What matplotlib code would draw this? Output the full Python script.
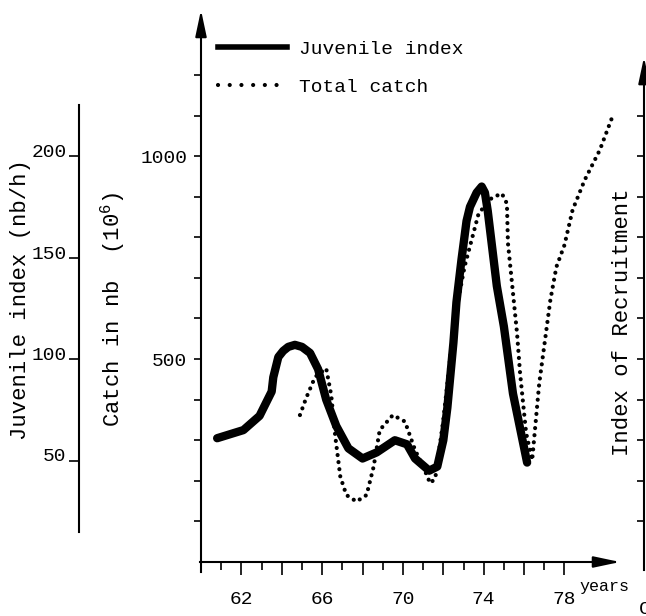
import numpy as np
import matplotlib
matplotlib.use("Agg")
import matplotlib.pyplot as plt
from matplotlib.lines import Line2D
from matplotlib.transforms import ScaledTranslation

plt.rcParams['font.family'] = ['Liberation Mono', 'DejaVu Sans']
plt.rcParams['mathtext.fontset'] = 'custom'
plt.rcParams['mathtext.rm'] = 'Liberation Mono'
plt.rcParams['mathtext.it'] = 'Liberation Mono'

# juvenile index (nb/h)
juv_year = [60.8, 62.1, 62.9, 63.5, 63.58, 63.83, 64.07, 64.32, 64.65, 65.0,
            65.4, 65.8, 66.2, 66.7, 67.3, 68.0, 68.7, 69.6, 70.2, 70.6,
            71.3, 71.7, 72.0, 72.2, 72.5, 72.65, 72.9, 73.15, 73.32, 73.65,
            73.9, 74.06, 74.2, 74.65, 75.0, 75.45, 76.15]
juv_index = [61, 65, 72, 84, 91, 101, 104, 106, 107, 106,
             103, 95, 80, 67, 56, 51, 54, 60, 58, 51,
             45, 47, 60, 76, 108, 128, 149, 168, 175, 182,
             185, 182, 173, 136, 116, 83, 49]

# total catch (10^6 individuals)
catch_year = [64.9, 65.2, 65.65, 66.2, 66.45, 66.65, 66.9, 67.2, 67.7, 68.2,
              68.55, 68.85, 69.5, 70.1, 70.6, 71.0, 71.35, 71.6, 72.0, 72.55,
              73.05, 73.75, 74.4, 74.9, 75.15, 75.2, 75.45, 75.65, 75.8, 76.1,
              76.4, 76.75, 77.3, 77.6, 78.0, 78.4, 79.0, 79.75, 80.35]
catch_nb = [362, 403, 456, 477, 411, 309, 210, 165, 149, 165,
            235, 325, 362, 346, 276, 235, 194, 206, 350, 596,
            727, 859, 897, 908, 883, 786, 663, 564, 466, 318,
            251, 440, 645, 727, 781, 867, 941, 1015, 1094]

year_ticks = [62, 64, 66, 68, 70, 72, 74, 76, 78]
year_labels = ['62', '', '66', '', '70', '', '74', '', '78']
year_minor = [61, 63, 65, 67, 69, 71, 73, 75, 77]
catch_ticks = [100, 200, 300, 400, 500, 600, 700, 800, 900, 1000, 1100, 1200]
catch_labels = ['', '', '', '', '500', '', '', '', '', '1000', '', '']
juv_ticks = [50, 100, 150, 200]
recr_ticks = [100, 200, 300, 400, 500, 600, 700, 800, 900, 1000, 1100]

fig = plt.figure(figsize=(6.46, 6.16), dpi=100)
pos = [201/646, 54/616, 419/646, 552/616]
arrow = dict(arrowstyle='-|>,head_length=0.8,head_width=0.17', color='k',
             lw=1.5, mutation_scale=20, shrinkA=0, shrinkB=0)

# main axes: catch
ax = fig.add_axes(pos)
ax.set_xlim(60, 80.75)
ax.set_ylim(0, 1360)
for s in ['top', 'right']:
    ax.spines[s].set_visible(False)
for s in ['left', 'bottom']:
    ax.spines[s].set_linewidth(1.5)
ax.spines['left'].set_bounds(-25, 1340)
ax.spines['bottom'].set_bounds(59.95, 80.5)
ax.set_xticks(year_ticks)
ax.set_xticklabels(year_labels, fontsize=14)
ax.set_xticks(year_minor, minor=True)
ax.tick_params(axis='x', which='major', length=9, width=1.2, pad=12)
ax.tick_params(axis='x', which='minor', length=6, width=1.2)
ax.set_yticks(catch_ticks)
ax.set_yticklabels(catch_labels, fontsize=14)
ax.tick_params(axis='y', length=5, width=1.2, pad=5)
ax.set_ylabel(r'Catch in nb  (10$^{6}$)', fontsize=16, va='center')
ax.yaxis.set_label_coords(-0.212, 0.457)
ax.set_xlabel('years', fontsize=12, va='center')
ax.xaxis.set_label_coords(0.962, -0.045)
ax.plot(catch_year, catch_nb, color='k', lw=3, ls=(0, (0.01, 1.7)),
        dash_capstyle='round')
ax.annotate('', xy=(0, 1360), xytext=(0, 1300),
            xycoords=('axes fraction', 'data'), arrowprops=arrow)
ax.annotate('', xy=(80.75, 0), xytext=(80.2, 0), arrowprops=arrow)

# juvenile index axis, offset to the left
axj = fig.add_axes(pos, sharex=ax)
axj.patch.set_visible(False)
axj.set_ylim(0, 272)
for s in ['top', 'right', 'bottom']:
    axj.spines[s].set_visible(False)
axj.spines['left'].set_position(('outward', 122 / 1.389))
axj.spines['left'].set_linewidth(1.5)
axj.spines['left'].set_bounds(15, 225)
axj.xaxis.set_visible(False)
axj.set_yticks(juv_ticks)
axj.set_yticklabels([str(t) for t in juv_ticks], fontsize=14)
axj.tick_params(axis='y', length=7, width=1.2, pad=2)
for lbl in axj.get_yticklabels():
    lbl.set_transform(lbl.get_transform() + ScaledTranslation(0, 4/72, fig.dpi_scale_trans))
axj.set_ylabel('Juvenile index (nb/h)', fontsize=16, va='center')
axj.yaxis.set_label_coords(-0.43, 0.475)
axj.plot(juv_year, juv_index, color='k', lw=6, solid_capstyle='round',
         solid_joinstyle='round')

# index of recruitment axis, right
axr = fig.add_axes(pos, sharex=ax)
axr.patch.set_visible(False)
axr.set_ylim(0, 1360)
for s in ['top', 'left', 'bottom']:
    axr.spines[s].set_visible(False)
axr.spines['right'].set_position(('outward', 24 / 1.389))
axr.spines['right'].set_linewidth(1.5)
axr.spines['right'].set_bounds(-20, 1220)
axr.xaxis.set_visible(False)
axr.yaxis.tick_right()
axr.set_yticks(recr_ticks)
axr.set_yticklabels([])
axr.tick_params(axis='y', direction='in', length=5, width=1.2)
axr.yaxis.set_label_position('right')
axr.set_ylabel('Index of Recruitment', fontsize=16, va='center', rotation=90)
axr.yaxis.set_label_coords(1.005, 0.435)
axr.annotate('', xy=(1 + 24/419, 1244), xytext=(1 + 24/419, 1180),
             xycoords=('axes fraction', 'data'), arrowprops=arrow)

handles = [Line2D([], [], color='k', lw=4),
           Line2D([], [], color='k', lw=3, ls=(0, (0.01, 2.8)), dash_capstyle='round')]
axr.legend(handles, ['Juvenile index', 'Total catch'], loc='upper left',
           bbox_to_anchor=(218/646, 576/616), bbox_transform=fig.transFigure,
           frameon=False, fontsize=14, handlelength=3.55, handletextpad=0.6,
           labelspacing=1.05, borderpad=0, borderaxespad=0)

fig.text(639/646, 1 - 610/616, 'C', fontsize=14, va='center', ha='left')

fig.savefig('out.png', dpi=100)
